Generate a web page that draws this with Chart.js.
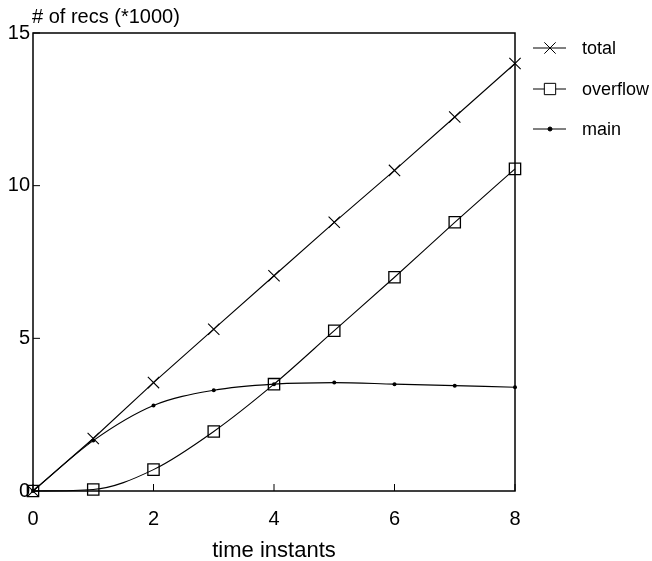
<!DOCTYPE html>
<html>
<head>
<meta charset="utf-8">
<script src="https://cdn.jsdelivr.net/npm/chart.js@4"></script>
<style>
  html, body { margin: 0; padding: 0; background: #fff; }
  #wrap { width: 652px; height: 561px; }
</style>
</head>
<body>
<div id="wrap"><canvas id="chart" width="652" height="561"></canvas></div>
<script>
const timeInstants = [0, 1, 2, 3, 4, 5, 6, 7, 8]
const totalRecs = [0, 1.72, 3.55, 5.3, 7.05, 8.8, 10.5, 12.25, 14.0]
const overflowRecs = [0, 0.05, 0.7, 1.95, 3.5, 5.25, 7.0, 8.8, 10.55]
const mainRecs = [0, 1.65, 2.8, 3.3, 3.5, 3.55, 3.5, 3.45, 3.4]
const xTicks = [0, 2, 4, 6, 8]
const yTicks = [0, 5, 10, 15]

const FONT = "'Liberation Sans', Arial, sans-serif"

const toPoints = vals => vals.map((v, i) => ({ x: timeInstants[i], y: v }))

const legendItems = [
  { label: "total", style: "crossRot", radius: 8 },
  { label: "overflow", style: "rect", radius: 8 },
  { label: "main", style: "circle", radius: 2 }
]

const framePlugin = {
  id: "frame",
  afterDraw(chart) {
    const { ctx, chartArea: a, scales } = chart
    ctx.save()
    ctx.strokeStyle = "#000"
    ctx.lineWidth = 1.5
    ctx.strokeRect(a.left, a.top, a.right - a.left, a.bottom - a.top)

    // inner tick marks
    ctx.lineWidth = 1
    ctx.beginPath()
    xTicks.forEach(t => {
      const x = scales.x.getPixelForValue(t)
      ctx.moveTo(x, a.bottom)
      ctx.lineTo(x, a.bottom - 7)
    })
    yTicks.forEach(t => {
      const y = scales.y.getPixelForValue(t)
      ctx.moveTo(a.left, y)
      ctx.lineTo(a.left + 7, y)
    })
    ctx.stroke()

    // y axis title
    ctx.fillStyle = "#000"
    ctx.font = "20px " + FONT
    ctx.textAlign = "left"
    ctx.textBaseline = "alphabetic"
    ctx.fillText("# of recs (*1000)", a.left - 1, 23)

    // legend
    ctx.font = "18px " + FONT
    ctx.textBaseline = "middle"
    const ys = [48, 89, 129]
    legendItems.forEach((item, i) => {
      const y = ys[i]
      ctx.beginPath()
      ctx.moveTo(533, y)
      ctx.lineTo(566, y)
      ctx.stroke()
      ctx.fillStyle = item.style === "rect" ? "#fff" : "#000"
      Chart.helpers.drawPoint(ctx, {
        pointStyle: item.style, radius: item.radius, borderWidth: 1
      }, 550, y)
      ctx.fillStyle = "#000"
      ctx.fillText(item.label, 582, y + 1)
    })
    ctx.restore()
  }
}

new Chart(document.getElementById("chart"), {
  type: "scatter",
  data: {
    datasets: [
      {
        label: "total",
        data: toPoints(totalRecs),
        showLine: true,
        clip: false,
        borderColor: "#000",
        borderWidth: 1.1,
        pointStyle: "crossRot",
        pointRadius: 8,
        pointBorderColor: "#000",
        pointBorderWidth: 1.1,
        tension: 0
      },
      {
        label: "overflow",
        data: toPoints(overflowRecs),
        showLine: true,
        clip: false,
        borderColor: "#000",
        borderWidth: 1.1,
        pointStyle: "rect",
        pointRadius: 8,
        pointBorderColor: "#000",
        pointBackgroundColor: "rgba(0,0,0,0)",
        pointBorderWidth: 1.3,
        cubicInterpolationMode: "monotone"
      },
      {
        label: "main",
        data: toPoints(mainRecs),
        showLine: true,
        clip: false,
        borderColor: "#000",
        borderWidth: 1.1,
        pointStyle: "circle",
        pointRadius: 2,
        pointBorderColor: "#000",
        pointBorderWidth: 0,
        pointBackgroundColor: "#000",
        cubicInterpolationMode: "monotone"
      }
    ]
  },
  options: {
    responsive: false,
    animation: false,
    events: [],
    layout: { padding: { left: 0, right: 137, top: 33, bottom: 0 } },
    plugins: {
      legend: { display: false },
      tooltip: { enabled: false }
    },
    scales: {
      x: {
        type: "linear",
        min: 0,
        max: 8,
        afterBuildTicks: scale => { scale.ticks = xTicks.map(v => ({ value: v })) },
        afterFit: scale => { scale.height = 70 },
        grid: { display: false, drawTicks: false },
        border: { display: false },
        ticks: { color: "#000", font: { family: FONT, size: 20 }, padding: 16, maxRotation: 0 },
        title: {
          display: true,
          text: "time instants",
          color: "#000",
          font: { family: FONT, size: 22 },
          padding: { top: 0, bottom: -3 }
        }
      },
      y: {
        type: "linear",
        min: 0,
        max: 15,
        afterBuildTicks: scale => { scale.ticks = yTicks.map(v => ({ value: v })) },
        afterFit: scale => { scale.width = 33 },
        grid: { display: false, drawTicks: false },
        border: { display: false },
        ticks: { color: "#000", font: { family: FONT, size: 20 }, padding: 3 }
      }
    }
  },
  plugins: [framePlugin]
})
</script>
</body>
</html>
